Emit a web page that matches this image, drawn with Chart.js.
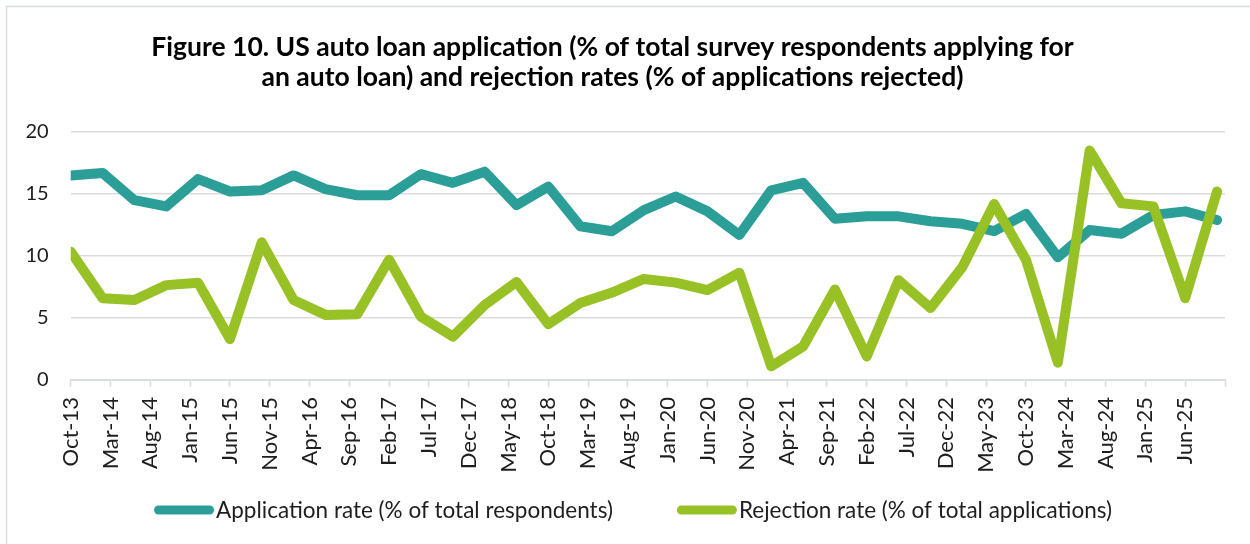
<!DOCTYPE html>
<html>
<head>
<meta charset="utf-8">
<script src="https://cdn.jsdelivr.net/npm/chart.js@4.4.1/dist/chart.umd.min.js"></script>
<style>
  html, body { margin: 0; padding: 0; background: #fff; }
  #wrap { width: 1250px; height: 544px; position: relative; }
</style>
</head>
<body>
<div id="wrap"><canvas id="chart" width="1250" height="544"></canvas></div>
<script>
// Survey waves (every four months)
const surveyDates = [
  '2013-10', '2014-02', '2014-06', '2014-10', '2015-02', '2015-06', '2015-10',
  '2016-02', '2016-06', '2016-10', '2017-02', '2017-06', '2017-10', '2018-02',
  '2018-06', '2018-10', '2019-02', '2019-06', '2019-10', '2020-02', '2020-06',
  '2020-10', '2021-02', '2021-06', '2021-10', '2022-02', '2022-06', '2022-10',
  '2023-02', '2023-06', '2023-10', '2024-02', '2024-06', '2024-10', '2025-02',
  '2025-06', '2025-10'
];

// Application rate (% of total respondents)
const applicationRate = [
  16.5, 16.7, 14.5, 14.0, 16.2, 15.2, 15.3, 16.5, 15.4, 14.9, 14.9, 16.6, 15.9,
  16.8, 14.1, 15.6, 12.4, 12.0, 13.7, 14.8, 13.6, 11.7, 15.3, 15.9, 13.0, 13.2,
  13.2, 12.8, 12.6, 12.0, 13.4, 9.9, 12.1, 11.8, 13.3, 13.6, 12.9
];

// Rejection rate (% of total applications)
const rejectionRate = [
  10.35, 6.6, 6.45, 7.65, 7.85, 3.3, 11.1, 6.45, 5.25, 5.3, 9.7, 5.1, 3.5,
  6.05, 7.9, 4.5, 6.2, 7.05, 8.15, 7.85, 7.25, 8.65, 1.1, 2.7, 7.3, 1.9,
  8.05, 5.8, 9.1, 14.2, 9.7, 1.4, 18.5, 14.25, 14.0, 6.6, 15.2
];

// Axis labels, one every five months starting Oct-13
const tickLabels = [
  'Oct-13', 'Mar-14', 'Aug-14', 'Jan-15', 'Jun-15', 'Nov-15', 'Apr-16', 'Sep-16',
  'Feb-17', 'Jul-17', 'Dec-17', 'May-18', 'Oct-18', 'Mar-19', 'Aug-19', 'Jan-20',
  'Jun-20', 'Nov-20', 'Apr-21', 'Sep-21', 'Feb-22', 'Jul-22', 'Dec-22', 'May-23',
  'Oct-23', 'Mar-24', 'Aug-24', 'Jan-25', 'Jun-25'
];

const seriesNames = [
  'Application rate (% of total respondents)',
  'Rejection rate (% of total applications)'
];

const titleLines = [
  'Figure 10. US auto loan application (% of total survey respondents applying for',
  'an auto loan) and rejection rates (% of applications rejected)'
];

const TEAL = '#2A9E97';
const GREEN = '#97C124';
const GRID = '#D9DEDD';
const TEXT = '#1E1E1E';
const FONT = 'Lato, "Open Sans", sans-serif';

// Months elapsed since the first wave, used as the x coordinate
const start = surveyDates[0].split('-').map(Number);
const monthIndex = d => {
  const [y, m] = d.split('-').map(Number);
  return (y - start[0]) * 12 + (m - start[1]);
};
const toPoints = values => values.map((v, i) => ({ x: monthIndex(surveyDates[i]), y: v }));

// Light frame around the figure
const framePlugin = {
  id: 'frame',
  beforeDraw(chart) {
    const ctx = chart.ctx;
    ctx.save();
    ctx.fillStyle = '#fff';
    ctx.fillRect(0, 0, chart.width, chart.height);
    ctx.strokeStyle = GRID;
    ctx.lineWidth = 1.5;
    ctx.strokeRect(6.5, 6.5, chart.width + 20, chart.height + 20);
    ctx.restore();
  }
};

// Legend drawn as a thick rounded line followed closely by the series name
const lineLegend = {
  id: 'lineLegend',
  afterDraw(chart, args, opts) {
    const ctx = chart.ctx;
    const items = chart.data.datasets;
    ctx.save();
    ctx.font = `${opts.fontSize}px ${FONT}`;
    const widths = items.map(ds => opts.lineLength + opts.gap + ctx.measureText(ds.label).width);
    const total = widths.reduce((a, b) => a + b, 0) + opts.spacing * (items.length - 1);
    let x = opts.centerX - total / 2;
    const y = opts.y;
    items.forEach((ds, i) => {
      ctx.strokeStyle = ds.borderColor;
      ctx.lineWidth = opts.lineWidth;
      ctx.lineCap = 'round';
      ctx.beginPath();
      ctx.moveTo(x + opts.lineWidth / 2, y);
      ctx.lineTo(x + opts.lineLength - opts.lineWidth / 2, y);
      ctx.stroke();
      ctx.fillStyle = TEXT;
      ctx.textBaseline = 'middle';
      ctx.textAlign = 'left';
      ctx.fillText(ds.label, x + opts.lineLength + opts.gap, y + 1);
      x += widths[i] + opts.spacing;
    });
    ctx.restore();
  }
};

new Chart(document.getElementById('chart'), {
  type: 'line',
  data: {
    datasets: [
      {
        label: seriesNames[0],
        data: toPoints(applicationRate),
        borderColor: TEAL,
        backgroundColor: TEAL,
        borderWidth: 10,
        borderCapStyle: 'round',
        borderJoinStyle: 'round',
        pointRadius: 0,
        tension: 0,
        order: 2
      },
      {
        label: seriesNames[1],
        data: toPoints(rejectionRate),
        borderColor: GREEN,
        backgroundColor: GREEN,
        borderWidth: 10,
        borderCapStyle: 'round',
        borderJoinStyle: 'round',
        pointRadius: 0,
        tension: 0,
        order: 1
      }
    ]
  },
  options: {
    responsive: false,
    animation: false,
    devicePixelRatio: 1,
    layout: { padding: { left: 0, right: 25, top: 0, bottom: 0 } },
    scales: {
      x: {
        type: 'linear',
        min: 0,
        max: 145,
        afterFit(scale) {
          scale.height = 164;
          scale.paddingLeft = 0;
          scale.paddingRight = 0;
        },
        ticks: {
          stepSize: 5,
          autoSkip: false,
          minRotation: 90,
          maxRotation: 90,
          padding: 10,
          color: TEXT,
          font: { family: FONT, size: 22 },
          callback: v => tickLabels[v / 5] ?? ''
        },
        grid: {
          drawOnChartArea: false,
          drawTicks: true,
          tickLength: 7,
          tickColor: GRID,
          tickWidth: 1.5
        },
        border: { display: true, color: GRID, width: 2 }
      },
      y: {
        min: 0,
        max: 20,
        afterFit(scale) {
          scale.width = 70.7;
          scale.paddingTop = 0;
          scale.paddingBottom = 0;
        },
        ticks: {
          stepSize: 5,
          padding: 22,
          color: TEXT,
          font: { family: FONT, size: 20 }
        },
        grid: {
          color: GRID,
          lineWidth: 1.5,
          drawTicks: false
        },
        border: { display: false }
      }
    },
    plugins: {
      legend: { display: false },
      tooltip: { enabled: false },
      title: {
        display: true,
        text: titleLines,
        color: '#000',
        font: { family: FONT, size: 26.5, weight: 'bold', lineHeight: 1.132 },
        padding: { top: 32.5, bottom: 39.5 }
      },
      lineLegend: {
        centerX: 633,
        y: 510,
        lineLength: 60,
        lineWidth: 9,
        gap: 2,
        spacing: 64,
        fontSize: 22.5
      }
    }
  },
  plugins: [framePlugin, lineLegend]
});
</script>
</body>
</html>
